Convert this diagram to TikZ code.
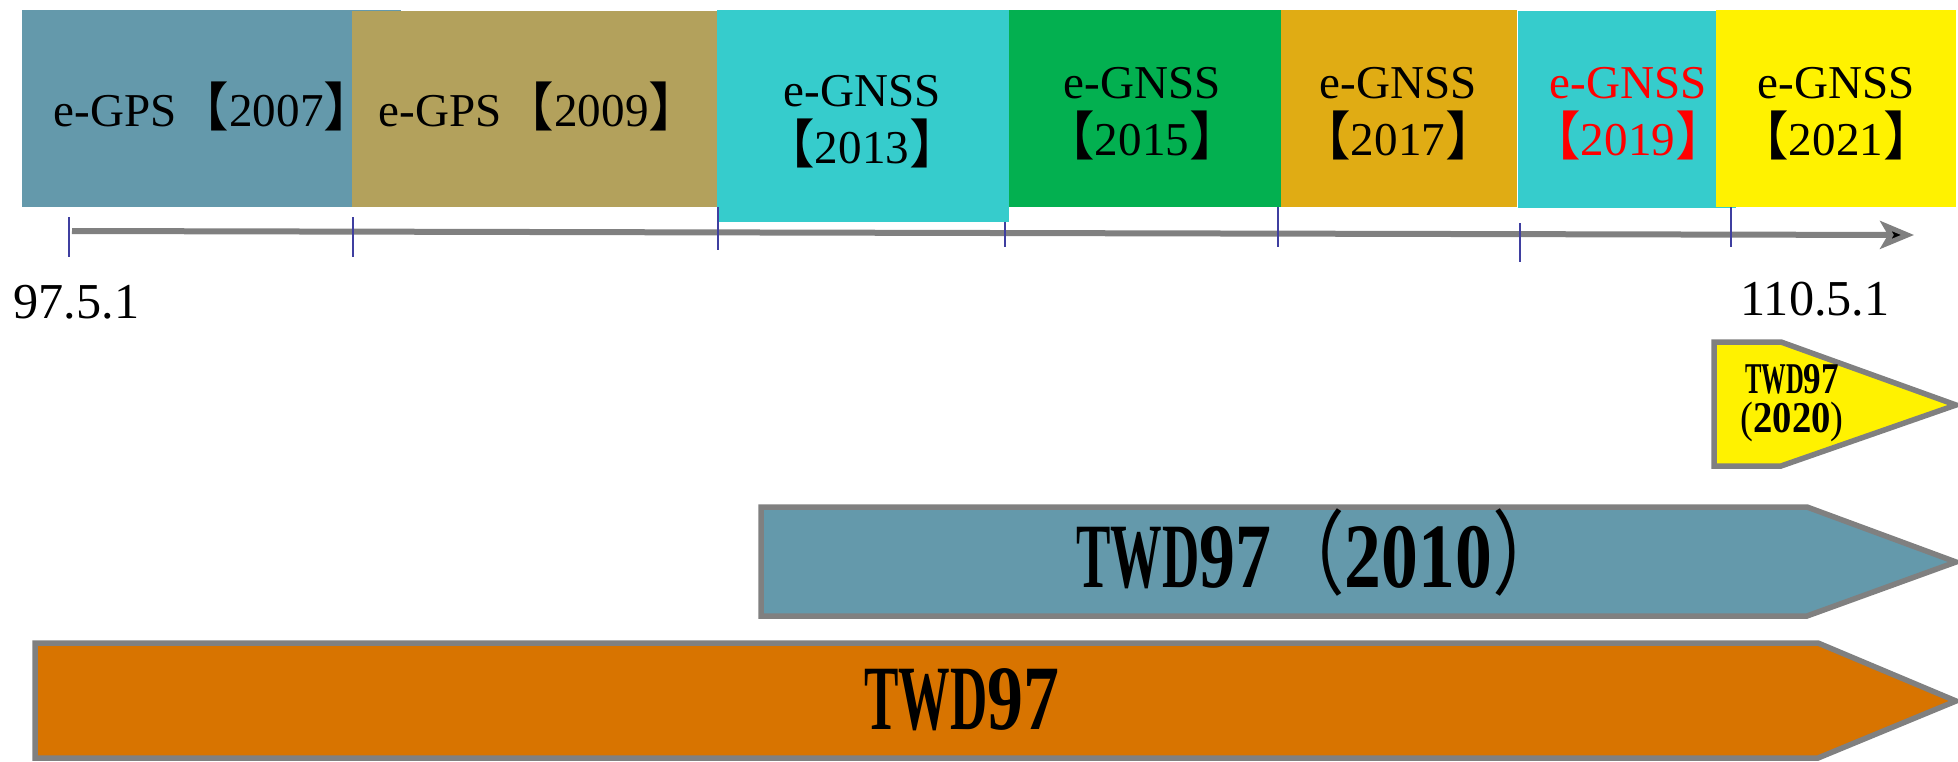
\documentclass[tikz,border=0pt]{standalone}
\usepackage{fontspec}
\setmainfont{Liberation Serif}
\newfontfamily\cjk{Noto Sans CJK TC}
\usetikzlibrary{arrows.meta}

\definecolor{gpsblue}{HTML}{6499AB}
\definecolor{gpsolive}{HTML}{B3A15C}
\definecolor{gnsscyan}{HTML}{36CCCC}
\definecolor{gnssgreen}{HTML}{03B050}
\definecolor{gnssgold}{HTML}{E0AC14}
\definecolor{datumorange}{HTML}{D87400}
\definecolor{tickblue}{HTML}{3F3FA0}

% year in black lenticular brackets, narrow datum text
\newcommand{\yr}[1]{{\cjk\fontsize{15}{15}\selectfont 【}#1{\cjk\fontsize{15}{15}\selectfont 】}}
\newcommand{\squeeze}[2]{\scalebox{#1}[1]{#2}}
\newcommand{\po}{{\cjk\mdseries （}}
\newcommand{\pc}{{\cjk\mdseries ）}}

\begin{document}
\begin{tikzpicture}[x=0.1mm,y=-0.1mm,
	boxtext/.style={inner sep=0,anchor=base,align=center,font=\fontsize{13.4}{16.2}\selectfont},
	datetext/.style={inner sep=0,anchor=base west,font=\fontsize{14.3}{17}\selectfont},
	tickmark/.style={draw=tickblue,line width=0.2mm},
	datumarrow/.style={fill=#1,draw=gray,line width=0.55mm,line join=miter},
	datumtext/.style={inner sep=0,anchor=base,align=center,font=\fontsize{#1}{#1}\selectfont\bfseries}]
	\useasboundingbox (0,0) rectangle (1958,761);
	% service periods
	\fill[gpsblue] (22,10) rectangle (401,207);
	\fill[gpsolive] (352,11) rectangle (718,207);
	\fill[gnsscyan] (717,10) rectangle (1009,222);
	\fill[gnssgreen] (1009,10) rectangle (1281,207);
	\fill[gnssgold] (1281,10) rectangle (1517,207);
	\fill[gnsscyan] (1518,11) rectangle (1736,208);
	\fill[yellow] (1716,10) rectangle (1956,207);
	\node[boxtext] (e2007) at (215,126) {e-GPS\yr{2007}};
	\node[boxtext] (e2009) at (540,126) {e-GPS\yr{2009}};
	\node[boxtext] (e2013) at (862,163) {e-GNSS\\\yr{2013}};
	\node[boxtext] (e2015) at (1142,155) {e-GNSS\\\yr{2015}};
	\node[boxtext] (e2017) at (1398,155) {e-GNSS\\\yr{2017}};
	\node[boxtext,text=red] (e2019) at (1628,155) {e-GNSS\\\yr{2019}};
	\node[boxtext] (e2021) at (1836,155) {e-GNSS\\\yr{2021}};
	% time axis
	\coordinate (t0) at (72,231);
	\coordinate (t1) at (1914,235);
	\draw[line width=0.6mm,gray,-{Stealth[length=3.4mm,width=2.8mm,inset=0.8mm,line width=0.5mm,fill=black]}] (t0) -- (t1);
	\foreach \x/\a/\b in {69/217/257,353/217/257,718/207/250,1005/222/247,1278/207/247,1520/223/262,1731/207/247}
		\draw[tickmark] (\x,\a) -- (\x,\b);
	\node[datetext] (start) at (13,318) {97.5.1};
	\node[datetext] (end) at (1740,315) {110.5.1};
	% datums
	\filldraw[datumarrow=yellow] (1714,342) -- (1781,342) -- (1956,405) -- (1781,466) -- (1714,466) -- cycle;
	\filldraw[datumarrow=gpsblue] (761,507) -- (1807,507) -- (1956,562) -- (1807,616) -- (761,616) -- cycle;
	\filldraw[datumarrow=datumorange] (35,643) -- (1818,643) -- (1956,701) -- (1818,758) -- (35,758) -- cycle;
	\node[datumtext=12.5] (twd2020) at (1792,432)
		{\squeeze{0.56}{TWD}\squeeze{0.8}{97}\\[-1.5pt]\squeeze{0.88}{\mdseries(\bfseries 2020\mdseries)}};
	\node[datumtext=26.2] (twd2010) at (1321,587)
		{\squeeze{0.56}{TWD}\squeeze{0.78}{97}\squeeze{0.8}{\po2010\pc}};
	\node[datumtext=26.2] (twd) at (962,729)
		{\squeeze{0.56}{TWD}\squeeze{0.78}{97}};
\end{tikzpicture}
\end{document}
